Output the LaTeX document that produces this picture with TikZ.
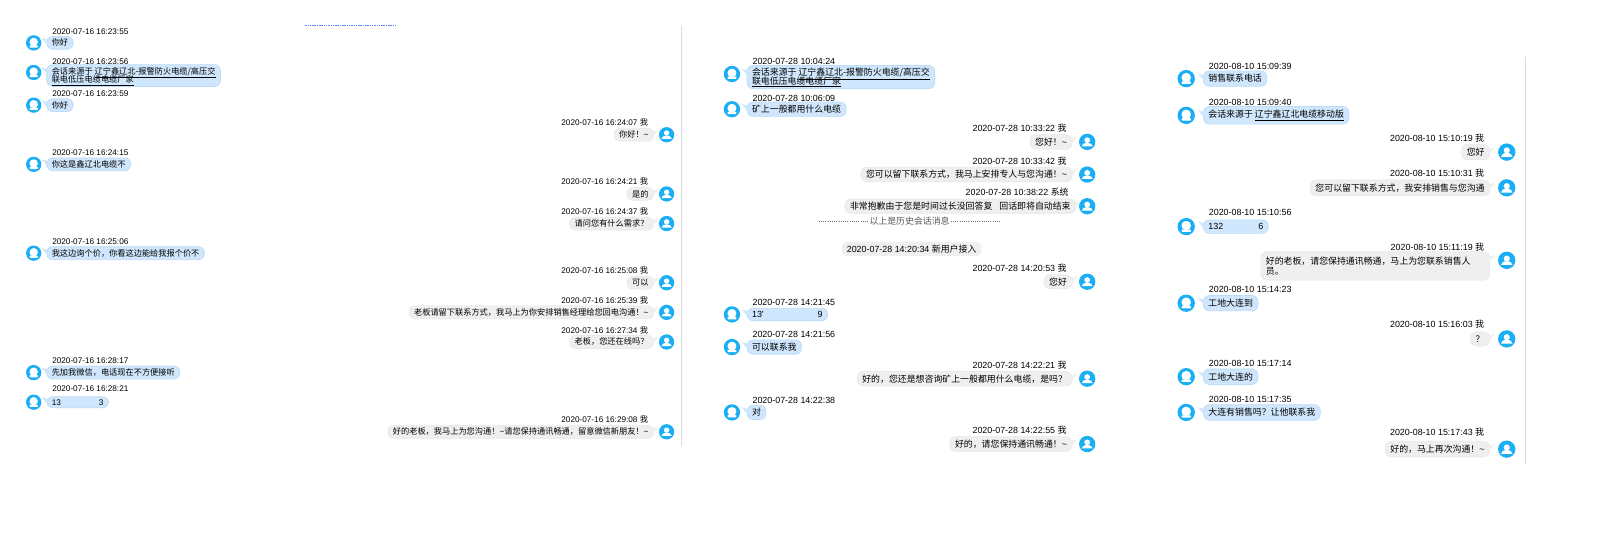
\documentclass[tikz,border=0pt]{standalone}
\usepackage{fontspec}
\setmainfont{Liberation Sans}
\newfontfamily\cjk{Noto Sans CJK SC}
\definecolor{lfill}{HTML}{CFE6FC}
\definecolor{ledge}{HTML}{BCDDF8}
\definecolor{rfill}{HTML}{EFEFEF}
\definecolor{redge}{HTML}{E8E8E8}
\definecolor{avcol}{HTML}{1AAEF5}
\newcommand\msgsize{\fontsize{8.2}{9.6}\selectfont}
\newcommand\gapv{18}
\newcommand\avr{7.5}
\newcommand\vpad{2.6pt}
\newcommand\setpanel[4]{\renewcommand\msgsize{\fontsize{#1}{#1}\selectfont}\renewcommand\gapv{#2}\renewcommand\avr{#3}\renewcommand\vpad{#4}}
\tikzset{
  x=1.0208pt,y=-1.0208pt,
  timestamp/.style={inner sep=0pt,font=\msgsize,text=black},
  bubble/.style={rounded corners=6pt,inner xsep=5pt,inner ysep=\vpad,font=\msgsize\cjk,text=black},
  lbubble/.style={bubble,fill=lfill,draw=ledge,line width=.7pt,anchor=west},
  rbubble/.style={bubble,fill=rfill,draw=redge,line width=.7pt,anchor=east},
  avatarnode/.style={circle,fill=avcol,inner sep=0pt,minimum size=2.04*\avr pt},
  panelline/.style={draw=black!14,line width=.8pt},
}
% two lines of text at a fixed distance, whatever the height of the font
\newcommand\twoline[3]{\vbox{\offinterlineskip\hbox{\rule[-.15\dimexpr#1pt\relax]{0pt}{#1pt}\smash{#2}}\hbox{\rule[-.15\dimexpr#1pt\relax]{0pt}{#1pt}\smash{#3}}}}
% [bubble offset], id, avatar x, time y, avatar y, time, text
\newcommand\lmsg[7][0]{
  \node[avatarnode] (a#2) at (#3,#5) {};
  \fill[white] ([yshift=.12*\avr pt]a#2.center) circle (.56*\avr pt);
  \fill[white,rounded corners=.6pt] ([xshift=-.55*\avr pt,yshift=-.62*\avr pt]a#2.center) rectangle ([xshift=.55*\avr pt,yshift=-.34*\avr pt]a#2.center);
  \node[timestamp,anchor=west] (t#2) at (#3+\gapv,#4) {#6};
  \node[lbubble] (b#2) at (#3+\gapv-5.5,#5+#1) {#7};
  \coordinate (k#2) at (#3+\gapv-5.5,#5);
  \fill[lfill] ([xshift=-5pt,yshift=5pt]k#2) -- ([xshift=1pt,yshift=3.5pt]k#2) -- ([xshift=1pt,yshift=-2pt]k#2) -- cycle;
}
\newcommand\rmsg[7][0]{
  \node[avatarnode] (a#2) at (#3,#5) {};
  \fill[white] ([yshift=1.7pt]a#2.center) circle (.36*\avr pt);
  \fill[white] ([xshift=-.68*\avr pt,yshift=-.55*\avr pt]a#2.center) arc[start angle=180,end angle=0,x radius=.68*\avr pt,y radius=.45*\avr pt] -- cycle;
  \node[timestamp,anchor=east] (t#2) at (#3-\gapv,#4) {#6 {\cjk 我}};
  \node[rbubble] (b#2) at (#3-\gapv+5.5,#5+#1) {#7};
  \coordinate (k#2) at (#3-\gapv+5.5,#5);
  \fill[rfill] ([xshift=5pt,yshift=5pt]k#2) -- ([xshift=-1pt,yshift=3.5pt]k#2) -- ([xshift=-1pt,yshift=-2pt]k#2) -- cycle;
}
\newcommand\latn[1]{{\fontspec{Liberation Sans}#1}}
\begin{document}
\begin{tikzpicture}
\useasboundingbox (0,0) rectangle (1567.35,540.75);
\fill[white] (0,0) rectangle (1567.35,540.75);
% separators
\coordinate (s1a) at (667,25); \coordinate (s1b) at (667,437);
\coordinate (s2a) at (1494,56); \coordinate (s2b) at (1494,455);
\draw[panelline] (s1a) -- (s1b);
\draw[panelline] (s2a) -- (s2b);
% small blue strip at the top
\coordinate (ba) at (299,25); \coordinate (bb) at (387,25);
\draw[draw=blue!70!cyan,opacity=.65,line width=1.4pt,dash pattern=on 1.5pt off .8pt] (ba) -- (bb);

% ---- panel 1
\setpanel{8.2}{18}{7.5}{2.6pt}
\lmsg{p1a}{33}{31}{42}{2020-07-16 16:23:55}{你好}
\lmsg[3]{p1b}{33}{60}{71}{2020-07-16 16:23:56}{\twoline{8.3}{会话来源于 \underline{辽宁鑫辽北-报警防火电缆/高压交}}{\underline{联电低压电缆电缆厂家}}}
\lmsg{p1c}{33}{92}{103}{2020-07-16 16:23:59}{你好}
\lmsg{p1d}{33}{150}{161}{2020-07-16 16:24:15}{你这是鑫辽北电缆不}
\lmsg{p1e}{33}{237}{248}{2020-07-16 16:25:06}{我这边询个价，你看这边能给我报个价不}
\lmsg{p1f}{33}{353}{365}{2020-07-16 16:28:17}{先加我微信，电话现在不方便接听}
\lmsg{p1g}{33}{381}{394}{2020-07-16 16:28:21}{\latn{13}\hspace{38pt}\latn{3}}
\rmsg{p1h}{653}{120}{132}{2020-07-16 16:24:07}{你好！\latn{\textasciitilde}}
\rmsg{p1i}{653}{178}{190}{2020-07-16 16:24:21}{是的}
\rmsg{p1j}{653}{207}{219}{2020-07-16 16:24:37}{请问您有什么需求？}
\rmsg{p1k}{653}{265}{277}{2020-07-16 16:25:08}{可以}
\rmsg{p1l}{653}{294}{306}{2020-07-16 16:25:39}{老板请留下联系方式，我马上为你安排销售经理给您回电沟通！\latn{\textasciitilde}}
\rmsg{p1m}{653}{324}{335}{2020-07-16 16:27:34}{老板，您还在线吗？}
\rmsg{p1n}{653}{411}{423}{2020-07-16 16:29:08}{好的老板，我马上为您沟通！\latn{\textasciitilde}请您保持通讯畅通，留意微信新朋友！\latn{\textasciitilde}}

% ---- panel 2
\setpanel{8.9}{20}{8}{3pt}
\lmsg[3]{p2a}{717}{60}{72.5}{2020-07-28 10:04:24}{\twoline{8.5}{会话来源于 \underline{辽宁鑫辽北-报警防火电缆/高压交}}{\underline{联电低压电缆电缆厂家}}}
\lmsg{p2b}{717}{96}{107}{2020-07-28 10:06:09}{矿上一般都用什么电缆}
\lmsg{p2c}{717}{296}{308}{2020-07-28 14:21:45}{\latn{13'}\hspace{54pt}\latn{9}}
\lmsg{p2d}{717}{328}{340}{2020-07-28 14:21:56}{可以联系我}
\lmsg{p2e}{717}{392}{404}{2020-07-28 14:22:38}{对}
\rmsg{p2f}{1065}{126}{139}{2020-07-28 10:33:22}{您好！\latn{\textasciitilde}}
\rmsg{p2g}{1065}{158}{171}{2020-07-28 10:33:42}{您可以留下联系方式，我马上安排专人与您沟通！\latn{\textasciitilde}}
\node[avatarnode] (ap2h) at (1065,202) {};
\fill[white] ([yshift=1.7pt]ap2h.center) circle (.36*\avr pt);
\fill[white] ([xshift=-.68*\avr pt,yshift=-.55*\avr pt]ap2h.center) arc[start angle=180,end angle=0,x radius=.68*\avr pt,y radius=.45*\avr pt] -- cycle;
\node[timestamp,anchor=east] (tp2h) at (1047,188) {2020-07-28 10:38:22 {\cjk 系统}};
\node[rbubble] (bp2h) at (1054,202) {非常抱歉由于您是时间过长没回答复\hspace{5pt} 回话即将自动结束};
\fill[rfill] ([xshift=5pt,yshift=5pt]bp2h.east) -- ([xshift=-1pt,yshift=3.5pt]bp2h.east) -- ([xshift=-1pt,yshift=-2pt]bp2h.east) -- cycle;
\coordinate (da) at (802,217); \coordinate (db) at (980,217);
\draw[black!55,line width=.7pt,dash pattern=on 1pt off 1.2pt] (da) -- (db);
\node[fill=white,inner xsep=1pt,inner ysep=0pt,font=\msgsize\cjk,text=black!65] (hist) at (891,217) {以上是历史会话消息};
\node[fill=rfill,rounded corners=6pt,inner xsep=5pt,inner ysep=3pt,font=\msgsize,text=black] (join) at (893,244) {2020-07-28 14:20:34 {\cjk 新用户接入}};
\rmsg{p2i}{1065}{263}{276}{2020-07-28 14:20:53}{您好}
\rmsg{p2j}{1065}{358}{371}{2020-07-28 14:22:21}{好的，您还是想咨询矿上一般都用什么电缆，是吗？}
\rmsg{p2k}{1065}{421}{435}{2020-07-28 14:22:55}{好的，请您保持通讯畅通！\latn{\textasciitilde}}

% ---- panel 3
\setpanel{8.9}{22}{8.5}{3.6pt}
\lmsg{p3a}{1162}{65}{77}{2020-08-10 15:09:39}{销售联系电话}
\lmsg{p3b}{1162}{100}{113}{2020-08-10 15:09:40}{会话来源于 \underline{辽宁鑫辽北电缆移动版}}
\lmsg{p3c}{1162}{208}{222}{2020-08-10 15:10:56}{\latn{132}\hspace{35pt}\latn{6}}
\lmsg{p3d}{1162}{284}{297}{2020-08-10 15:14:23}{工地大连到}
\lmsg{p3e}{1162}{356}{369}{2020-08-10 15:17:14}{工地大连的}
\lmsg{p3f}{1162}{391}{404}{2020-08-10 15:17:35}{大连有销售吗？让他联系我}
\rmsg{p3g}{1476}{135}{149}{2020-08-10 15:10:19}{您好}
\rmsg{p3h}{1476}{170}{184}{2020-08-10 15:10:31}{您可以留下联系方式，我安排销售与您沟通}
\rmsg[5.5]{p3i}{1476}{242}{255}{2020-08-10 15:11:19}{\twoline{10.5}{好的老板，请您保持通讯畅通，马上为您联系销售人\hspace{14pt}}{员。}}
\rmsg{p3j}{1476}{318}{332}{2020-08-10 15:16:03}{？}
\rmsg{p3k}{1476}{423}{440}{2020-08-10 15:17:43}{好的，马上再次沟通！\latn{\textasciitilde}}
\end{tikzpicture}
\end{document}
